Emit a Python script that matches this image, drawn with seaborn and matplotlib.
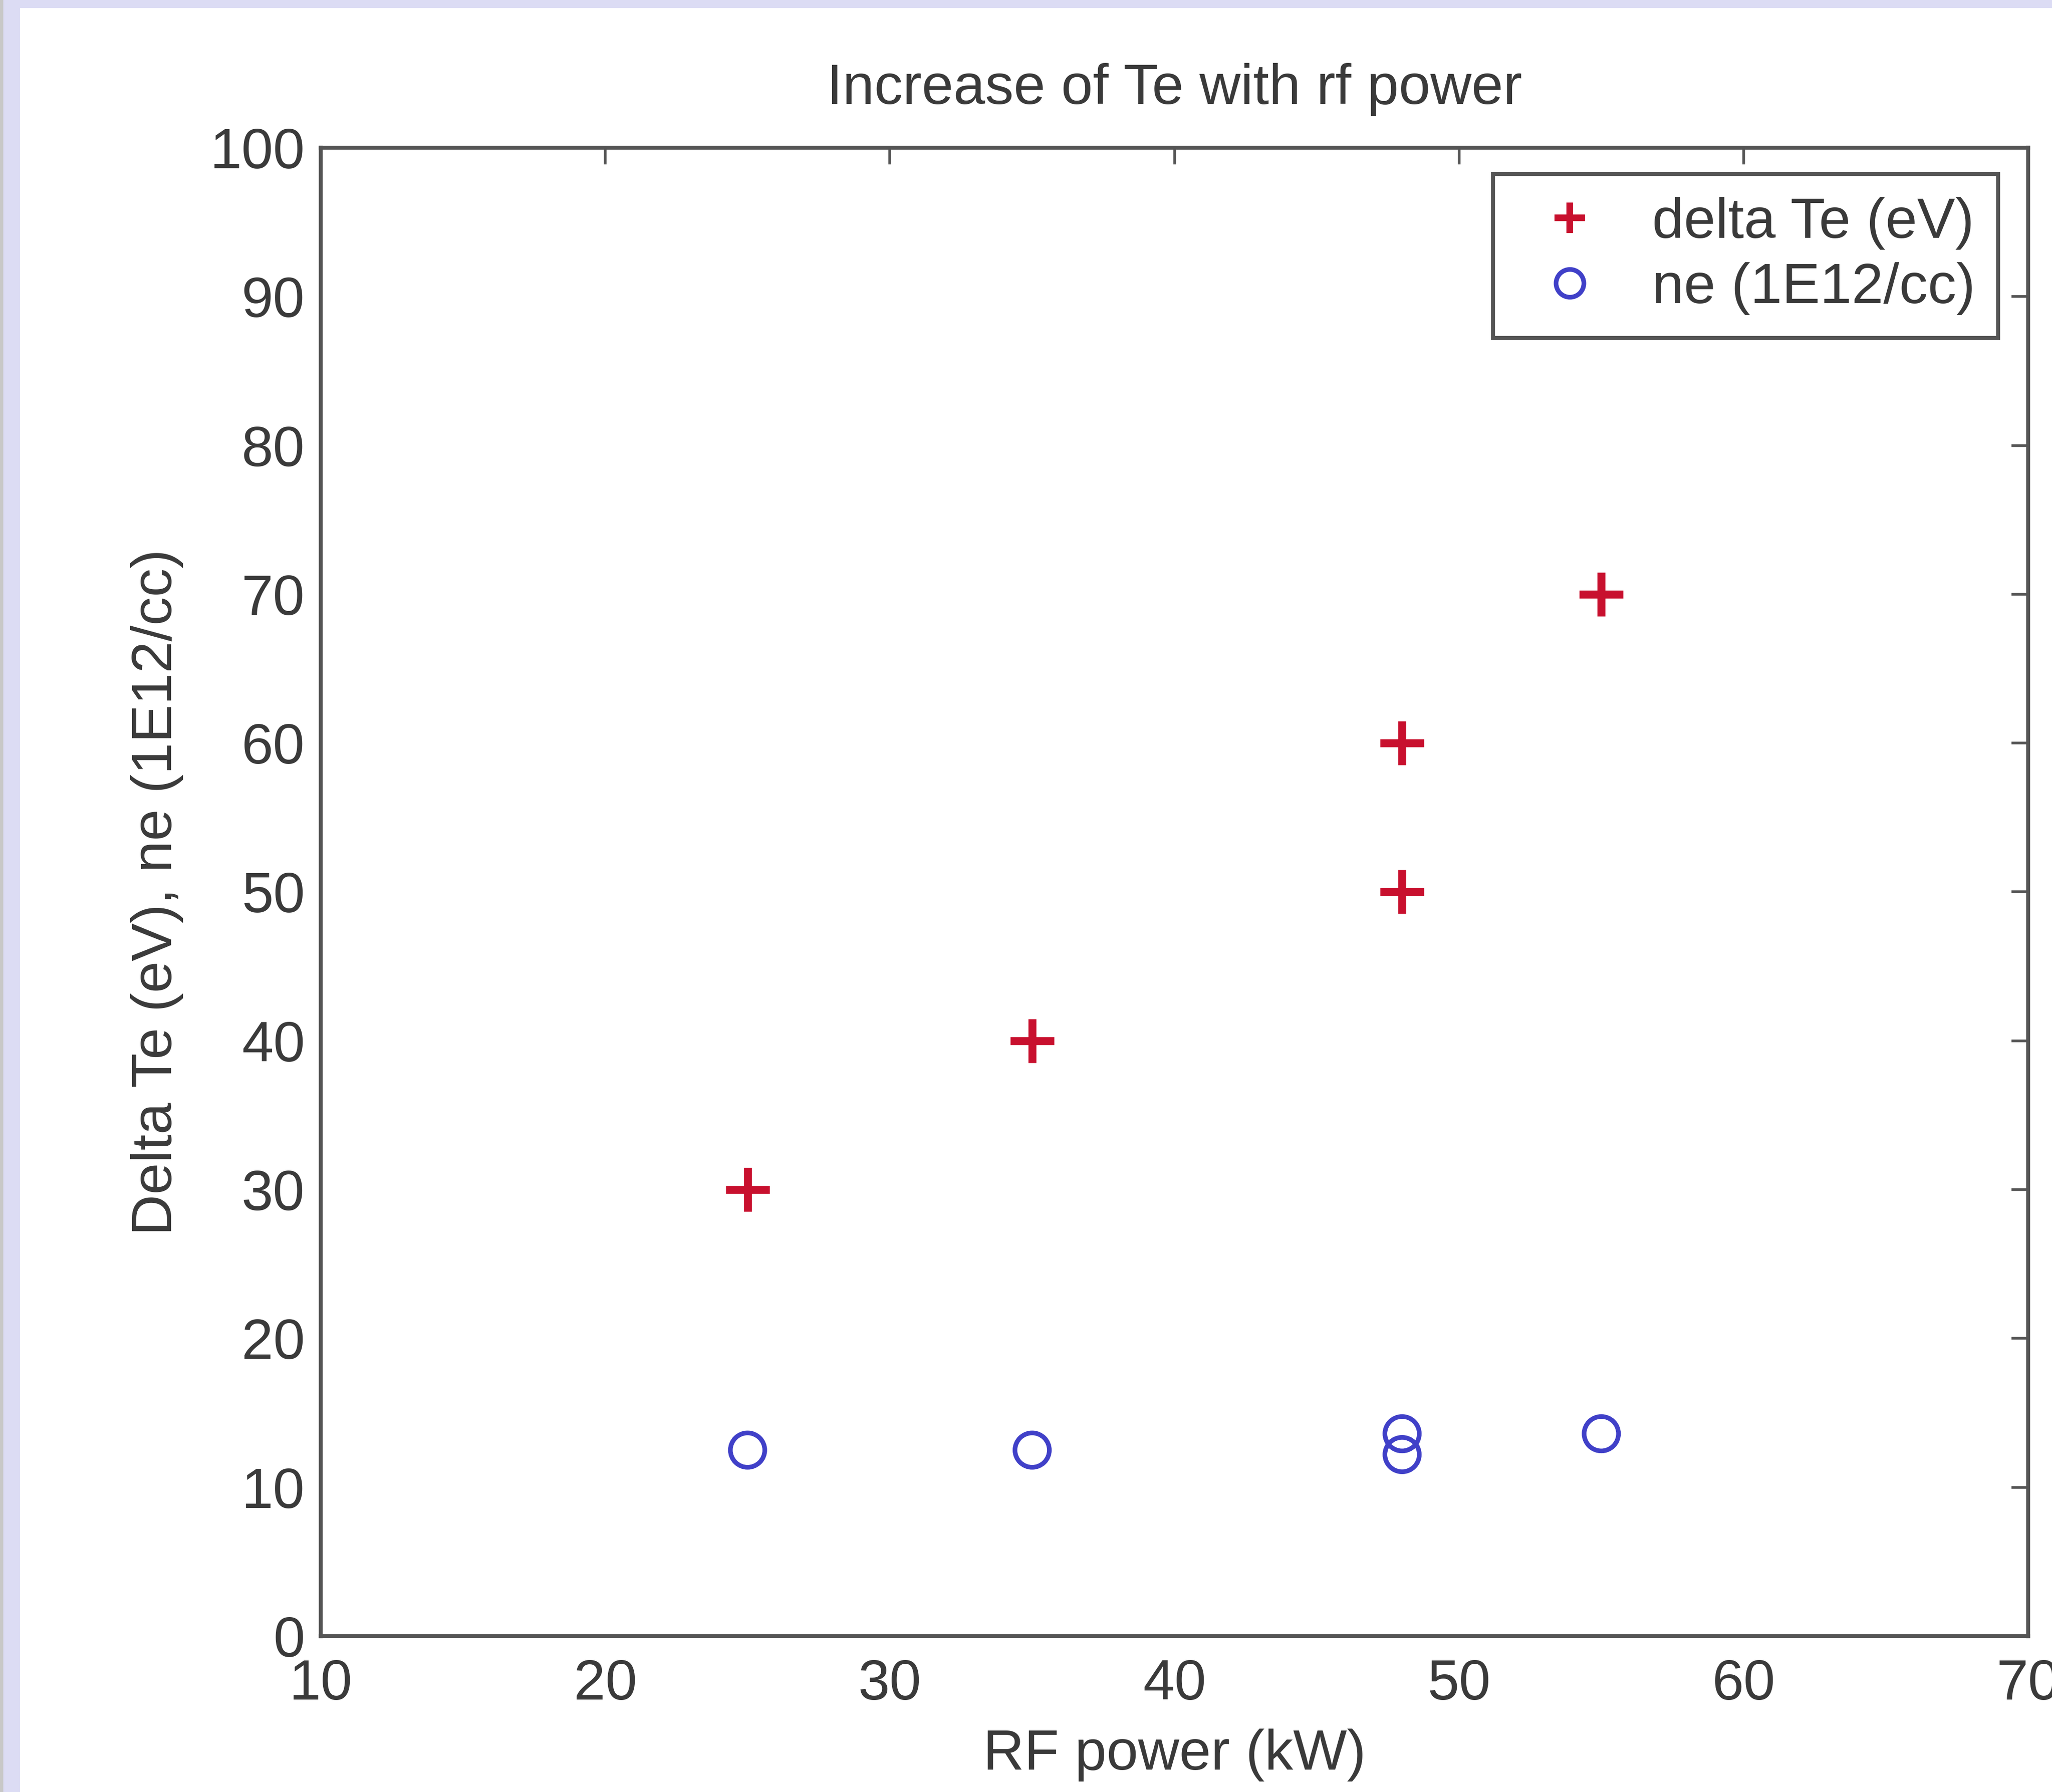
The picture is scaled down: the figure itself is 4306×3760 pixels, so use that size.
import matplotlib
matplotlib.use("Agg")
import matplotlib.pyplot as plt
from matplotlib.patches import Rectangle
from matplotlib.lines import Line2D
import seaborn as sns
import pandas as pd

# Measured data
rf_power_te = [25, 35, 48, 48, 55]
delta_te = [30, 40, 50, 60, 70]
rf_power_ne = [25, 35, 48, 48, 55]
ne = [12.5, 12.5, 12.2, 13.6, 13.6]

x_ticks = [10, 20, 30, 40, 50, 60, 70]
y_ticks = [0, 10, 20, 30, 40, 50, 60, 70, 80, 90, 100]

title = "Increase of Te with rf power"
x_label = "RF power (kW)"
y_label = "Delta Te (eV), ne (1E12/cc)"
legend_labels = ["delta Te (eV)", "ne (1E12/cc)"]

RED = "#c8102e"
BLUE = "#4040c8"
TEXT = "#3a3a3a"
FRAME = "#555555"
FS = 86

sns.set_style("white")
plt.rcParams["font.family"] = ["Liberation Sans Narrow", "Liberation Sans", "DejaVu Sans"]
plt.rcParams["text.color"] = TEXT
plt.rcParams["axes.labelcolor"] = TEXT
plt.rcParams["xtick.color"] = FRAME
plt.rcParams["ytick.color"] = FRAME
plt.rcParams["xtick.labelcolor"] = TEXT
plt.rcParams["ytick.labelcolor"] = TEXT

W, H = 4306, 3760
fig = plt.figure(figsize=(W / 100, H / 100), dpi=100)
fig.patch.set_facecolor("white")

# slide frame: lavender bands on top and left edge
lav = "#dcdcf4"
fig.patches.append(Rectangle((0, 1 - 17 / H), 1, 17 / H, transform=fig.transFigure,
                             facecolor=lav, edgecolor="none", zorder=0))
fig.patches.append(Rectangle((0, 0), 42 / W, 1, transform=fig.transFigure,
                             facecolor=lav, edgecolor="none", zorder=0))
fig.patches.append(Rectangle((0, 0), 7 / W, 1, transform=fig.transFigure,
                             facecolor="#c8c8c8", edgecolor="none", zorder=0))

ax = fig.add_axes([673 / W, 1 - 3433 / H, (4256 - 673) / W, (3433 - 310) / H])
ax.set_facecolor("white")

te_df = pd.DataFrame({"power": rf_power_te, "value": delta_te})
ne_df = pd.DataFrame({"power": rf_power_ne, "value": ne})

sns.scatterplot(data=te_df, x="power", y="value", ax=ax, marker="+", s=4400,
                linewidth=12, color=RED, edgecolor=RED, legend=False, zorder=3)
sns.scatterplot(data=ne_df, x="power", y="value", ax=ax, marker="o", s=2700,
                linewidth=7, facecolor="none", edgecolor=BLUE, legend=False, zorder=3)

ax.set_xlim(10, 70)
ax.set_ylim(0, 100)
ax.set_xticks(x_ticks)
ax.set_yticks(y_ticks)

for sp in ax.spines.values():
    sp.set_visible(True)
    sp.set_color(FRAME)
    sp.set_linewidth(6)

ax.tick_params(axis="both", which="major", direction="in", length=25, width=4,
               top=True, right=True, labelsize=FS)
ax.tick_params(axis="x", pad=34)
ax.tick_params(axis="y", pad=24)

ax.set_title(title, fontsize=FS, pad=66, color=TEXT)
ax.set_xlabel(x_label, fontsize=FS, labelpad=26)
ax.set_ylabel(y_label, fontsize=FS, labelpad=40)

handles = [
    Line2D([], [], linestyle="none", marker="+", markersize=46, markeredgewidth=10,
           color=RED),
    Line2D([], [], linestyle="none", marker="o", markersize=42, markeredgewidth=7,
           markerfacecolor="none", markeredgecolor=BLUE),
]
leg = ax.legend(handles, legend_labels, loc="upper right",
                bbox_to_anchor=((4193 - 673) / (4256 - 673), 1 - (365 - 310) / (3433 - 310)),
                borderaxespad=0, fontsize=FS, frameon=True, fancybox=False,
                handlelength=1.9, handletextpad=0.5, borderpad=0.4,
                labelspacing=0.22)
leg.get_frame().set_edgecolor(FRAME)
leg.get_frame().set_linewidth(6)
leg.get_frame().set_facecolor("white")
leg.get_frame().set_alpha(1)

fig.savefig("out.png", dpi=100)
